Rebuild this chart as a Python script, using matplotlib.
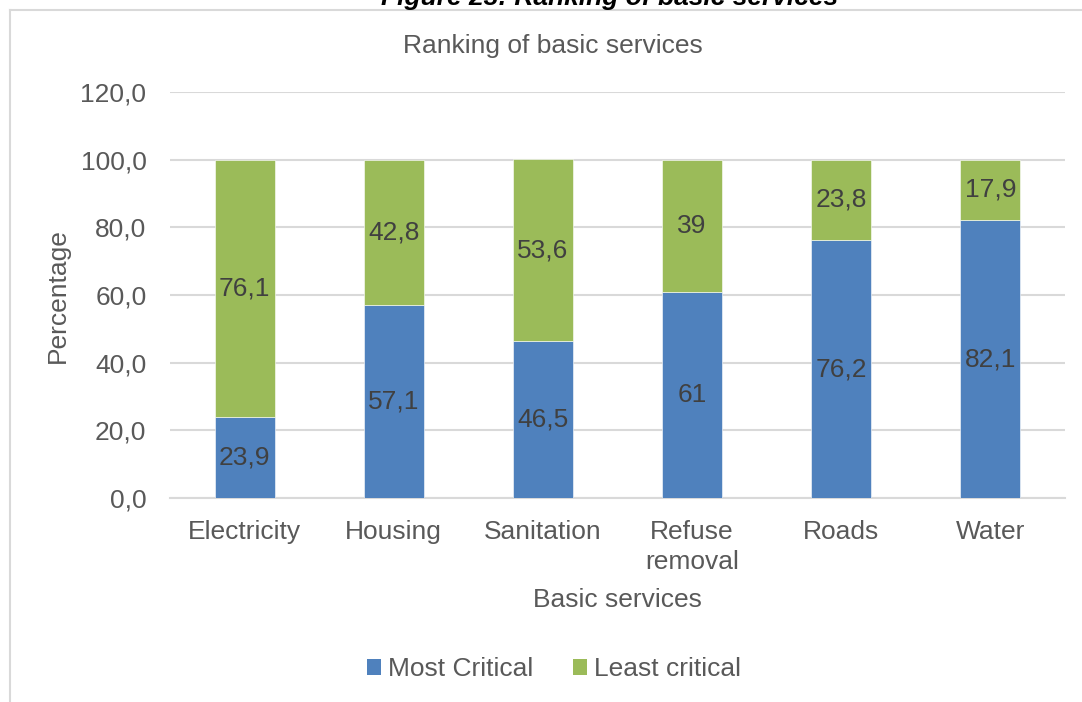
import matplotlib
matplotlib.use("Agg")
import matplotlib.pyplot as plt
from matplotlib.lines import Line2D
from matplotlib.patches import Patch
import numpy as np

categories = ["Electricity", "Housing", "Sanitation", "Refuse\nremoval", "Roads", "Water"]
most_critical = [23.9, 57.1, 46.5, 61.0, 76.2, 82.1]
least_critical = [76.1, 42.8, 53.6, 39.0, 23.8, 17.9]
most_labels = ["23,9", "57,1", "46,5", "61", "76,2", "82,1"]
least_labels = ["76,1", "42,8", "53,6", "39", "23,8", "17,9"]
y_ticks = [0, 20, 40, 60, 80, 100, 120]

BLUE = "#4F81BD"
GREEN = "#9BBB59"
GRID = "#D9D9D9"
TICK = "#595959"
LABEL = "#404040"

plt.rcParams["font.family"] = ["Liberation Sans", "DejaVu Sans"]

W, H = 1082, 702
fig = plt.figure(figsize=(W / 100, H / 100), dpi=100)

# outer chart frame (top and left edges)
fig.add_artist(Line2D([10 / W, 10 / W], [0, 1 - 10 / H], transform=fig.transFigure,
                      color=GRID, lw=1.5))
fig.add_artist(Line2D([10 / W, 1], [1 - 10 / H, 1 - 10 / H], transform=fig.transFigure,
                      color=GRID, lw=1.5))

# caption above the chart frame
fig.text(610 / W, 1 - 5 / H, "Figure 23: Ranking of basic services", ha="center",
         va="baseline", fontsize=19, fontweight="bold", fontstyle="italic", color="black")

ax = fig.add_axes([170 / W, 1 - 498 / H, (1065 - 170) / W, (498 - 92) / H])
x = np.arange(len(categories))
width = 0.402
ax.bar(x, most_critical, width, color=BLUE, edgecolor="white", linewidth=0.4,
       label="Most Critical", zorder=3)
ax.bar(x, least_critical, width, bottom=most_critical, color=GREEN,
       edgecolor="white", linewidth=0.4, label="Least critical", zorder=3)

for i in range(len(categories)):
    ax.text(x[i], most_critical[i] / 2, most_labels[i], ha="center", va="center",
            fontsize=19, color=LABEL, zorder=4)
    ax.text(x[i], most_critical[i] + least_critical[i] / 2, least_labels[i],
            ha="center", va="center", fontsize=19, color=LABEL, zorder=4)

ax.set_xlim(-0.5, len(categories) - 0.5)
ax.set_ylim(0, 120)
ax.set_yticks(y_ticks)
ax.set_yticklabels([f"{v:.1f}".replace(".", ",") for v in y_ticks])
ax.set_xticks(x)
ax.set_xticklabels(categories, linespacing=1.3)
ax.tick_params(axis="both", length=0, labelsize=19, colors=TICK)
ax.tick_params(axis="x", pad=16)
ax.tick_params(axis="y", pad=17)
ax.yaxis.grid(True, color=GRID, lw=1.5, zorder=0)
ax.set_axisbelow(True)
for s in ["top", "right", "left"]:
    ax.spines[s].set_visible(False)
ax.spines["bottom"].set_color(GRID)
ax.spines["bottom"].set_linewidth(1.5)

fig.text(553 / W, 1 - 46 / H, "Ranking of basic services", ha="center", va="center",
         fontsize=19, color=TICK)
fig.text(58 / W, 1 - 296 / H, "Percentage", ha="center", va="center", rotation=90,
         fontsize=19, color=TICK)
fig.text(617 / W, 1 - 600 / H, "Basic services", ha="center", va="center",
         fontsize=19, color=TICK)

handles = [Patch(facecolor=BLUE), Patch(facecolor=GREEN)]
fig.legend(handles, ["Most Critical", "Least critical"], loc="center",
           bbox_to_anchor=(554 / W, 1 - 669 / H), ncol=2, frameon=False,
           fontsize=19, handlelength=0.55, handleheight=0.55, handletextpad=0.25,
           columnspacing=1.5, labelcolor=TICK)

fig.savefig("out.png", dpi=100)
